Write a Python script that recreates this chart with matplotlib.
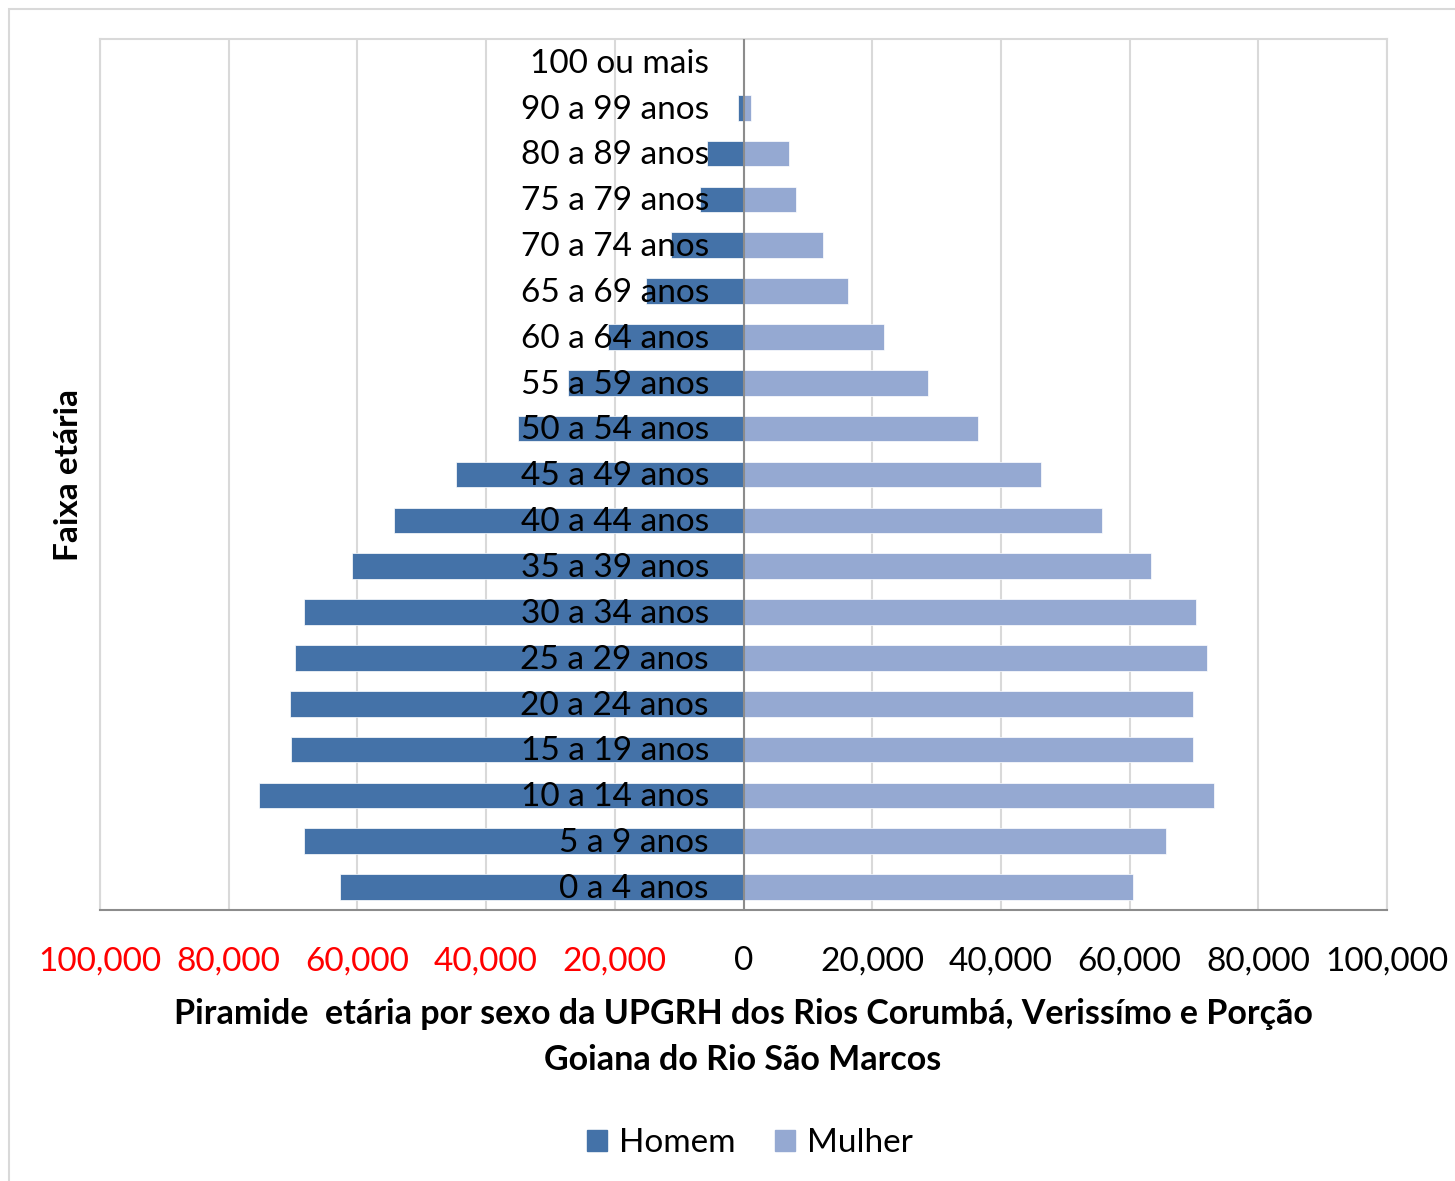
import matplotlib.pyplot as plt
from matplotlib.patches import Rectangle, Patch
from matplotlib.ticker import FuncFormatter

plt.rcParams['font.family'] = ['Lato', 'DejaVu Sans']

# Faixas etárias (de baixo para cima)
faixas = ["0 a 4 anos", "5 a 9 anos", "10 a 14 anos", "15 a 19 anos", "20 a 24 anos",
          "25 a 29 anos", "30 a 34 anos", "35 a 39 anos", "40 a 44 anos", "45 a 49 anos",
          "50 a 54 anos", "55 a 59 anos", "60 a 64 anos", "65 a 69 anos", "70 a 74 anos",
          "75 a 79 anos", "80 a 89 anos", "90 a 99 anos", "100 ou mais"]
homem = [62700, 68300, 75300, 70300, 70400, 69700, 68300, 60800, 54300, 44600,
         35100, 27200, 21000, 15100, 11200, 6800, 5600, 800, 100]
mulher = [60600, 65600, 73100, 69800, 69800, 72000, 70300, 63300, 55700, 46200,
          36500, 28600, 21900, 16300, 12300, 8100, 7000, 1100, 150]

cor_h = "#4472A8"
cor_m = "#95A9D2"
fs = 24

fig = plt.figure(figsize=(14.55, 11.81), dpi=100)
ax = fig.add_axes([100/1455, 1 - 910/1181, 1287/1455, 871/1181])

y = range(len(faixas))
ax.barh(y, [-v for v in homem], height=0.56, color=cor_h, edgecolor="white", linewidth=0.5, zorder=2)
ax.barh(y, mulher, height=0.56, color=cor_m, edgecolor="white", linewidth=0.5, zorder=2)

# rótulos das faixas por cima das barras
for i, f in enumerate(faixas):
    ax.text(-5400, i - 0.04, f, ha="right", va="center", fontsize=fs, color="black", zorder=3)

ax.set_xlim(-100000, 100000)
ax.set_ylim(-0.5, len(faixas) - 0.5)
ax.set_xticks(range(-100000, 100001, 20000))
ax.xaxis.set_major_formatter(FuncFormatter(lambda v, p: f"{abs(int(v)):,}"))
ax.tick_params(axis="x", length=0, pad=26, labelsize=fs)
ax.set_yticks([])
for lbl in ax.get_xticklabels():
    if lbl.get_position()[0] < 0:
        lbl.set_color("red")

ax.grid(axis="x", color="#D9D9D9", linewidth=1.5, zorder=0)
ax.axvline(0, color="#8C8C8C", linewidth=1.5, zorder=3)
for s in ["top", "left", "right"]:
    ax.spines[s].set_color("#D9D9D9")
    ax.spines[s].set_linewidth(1.5)
ax.spines["bottom"].set_color("#8C8C8C")
ax.spines["bottom"].set_linewidth(1.5)

fig.text(68/1455, 1 - 475/1181, "Faixa etária", rotation=90, ha="center", va="center",
         fontsize=fs, fontweight="bold")
fig.text(743/1455, 1 - 1037/1181,
         "Piramide  etária por sexo da UPGRH dos Rios Corumbá, Verissímo e Porção\nGoiana do Rio São Marcos",
         ha="center", va="center", fontsize=24.5, fontweight="bold", linespacing=1.55)

handles = [Patch(color=cor_h, label="Homem"), Patch(color=cor_m, label="Mulher")]
fig.legend(handles=handles, loc="center", bbox_to_anchor=(750/1455, 1 - 1143/1181), ncol=2,
           frameon=False, fontsize=fs, handlelength=0.6, handleheight=0.6, columnspacing=1.2,
           handletextpad=0.35)

# moldura externa
fig.patches.append(Rectangle((9/1455, -0.05), 1.1, 1 - 9/1181 + 0.05, transform=fig.transFigure,
                             fill=False, edgecolor="#D9D9D9", linewidth=1.5))

fig.savefig("out.png", dpi=100)
